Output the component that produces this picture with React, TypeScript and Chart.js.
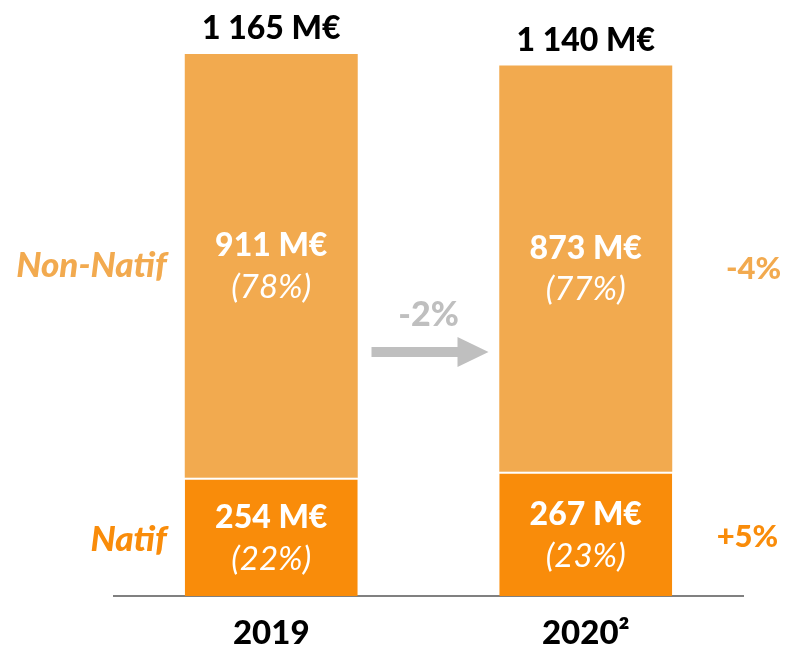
import React, { useEffect, useRef } from 'react';
import { Chart, registerables } from 'chart.js';

Chart.register(...registerables);

const categories = ['2019', '2020²'];
const natifValues = [254, 267];
const nonNatifValues = [911, 873];
const natifShares = ['(22%)', '(23%)'];
const nonNatifShares = ['(78%)', '(77%)'];
const seriesNames = ['Natif', 'Non-Natif'];
const seriesChanges = ['+5%', '-4%'];
const totalChange = '-2%';

const NATIF = '#F98C0A';
const NON_NATIF = '#F2AA4F';
const GREY = '#BFBFBF';
const FONT = 'Lato, "Open Sans", sans-serif';
const HEAVY = '900';

const fmt = (v: number) => v.toString().replace(/\B(?=(\d{3})+(?!\d))/g, ' ') + ' M€';

const labelPlugin = {
  id: 'customLabels',
  afterDatasetsDraw(chart: any) {
    const ctx = chart.ctx;
    const m0 = chart.getDatasetMeta(0);
    const m1 = chart.getDatasetMeta(1);
    ctx.save();
    ctx.textAlign = 'center';
    ctx.textBaseline = 'middle';
    categories.forEach((_, i) => {
      const b0 = m0.data[i];
      const b1 = m1.data[i];
      const mid0 = (b0.y + b0.base) / 2;
      const mid1 = (b1.y + b1.base) / 2;
      ctx.fillStyle = '#fff';
      ctx.font = `${HEAVY} 32px ${FONT}`;
      ctx.fillText(fmt(nonNatifValues[i]), b1.x, mid1 - 20);
      ctx.fillText(fmt(natifValues[i]), b0.x, mid0 - 19);
      ctx.font = `italic 33px ${FONT}`;
      ctx.fillText(nonNatifShares[i], b1.x, mid1 + 21);
      ctx.fillText(natifShares[i], b0.x, mid0 + 22);
      ctx.fillStyle = '#000';
      ctx.font = `${HEAVY} 32px ${FONT}`;
      ctx.fillText(fmt(natifValues[i] + nonNatifValues[i]), b1.x, b1.y - 25);
    });

    // series names on the left
    const f0 = m0.data[0];
    const f1 = m1.data[0];
    ctx.textAlign = 'right';
    ctx.font = `italic ${HEAVY} 35px ${FONT}`;
    ctx.fillStyle = NON_NATIF;
    ctx.fillText(seriesNames[1], f1.x - f1.width / 2 - 18, (f1.y + f1.base) / 2);
    ctx.fillStyle = NATIF;
    ctx.fillText(seriesNames[0], f0.x - f0.width / 2 - 18, (f0.y + f0.base) / 2 + 3);

    // changes on the right
    const l0 = m0.data[categories.length - 1];
    const l1 = m1.data[categories.length - 1];
    ctx.font = `${HEAVY} 31px ${FONT}`;
    ctx.fillStyle = NON_NATIF;
    ctx.fillText(seriesChanges[1], l1.x + l1.width / 2 + 109, (l1.y + l1.base) / 2);
    ctx.fillStyle = NATIF;
    ctx.fillText(seriesChanges[0], l0.x + l0.width / 2 + 106, (l0.y + l0.base) / 2 + 3);

    // total change arrow
    const cx = (f1.x + l1.x) / 2;
    const ay = chart.chartArea.top + 352;
    ctx.fillStyle = GREY;
    ctx.textAlign = 'center';
    ctx.font = `${HEAVY} 34px ${FONT}`;
    ctx.fillText(totalChange, cx, ay - 37);
    ctx.beginPath();
    ctx.moveTo(cx - 57, ay - 5);
    ctx.lineTo(cx + 29, ay - 5);
    ctx.lineTo(cx + 29, ay - 15);
    ctx.lineTo(cx + 60, ay);
    ctx.lineTo(cx + 29, ay + 15);
    ctx.lineTo(cx + 29, ay + 5);
    ctx.lineTo(cx - 57, ay + 5);
    ctx.closePath();
    ctx.fill();
    ctx.restore();
  },
};

export default function App() {
  const ref = useRef<HTMLCanvasElement | null>(null);
  useEffect(() => {
    if (!ref.current) return;
    const chart = new Chart(ref.current, {
      type: 'bar',
      data: {
        labels: categories,
        datasets: [
          {
            label: seriesNames[0],
            data: natifValues,
            backgroundColor: NATIF,
            borderColor: '#ffffff',
            borderWidth: { top: 2, left: 0, right: 0, bottom: 0 },
            borderSkipped: 'start',
            categoryPercentage: 1,
            barPercentage: 0.55,
          },
          {
            label: seriesNames[1],
            data: nonNatifValues,
            backgroundColor: NON_NATIF,
            borderWidth: 0,
            categoryPercentage: 1,
            barPercentage: 0.55,
          },
        ],
      },
      options: {
        animation: false,
        responsive: false,
        maintainAspectRatio: false,
        layout: { padding: { top: 0, left: 114, right: 44, bottom: 0 } },
        plugins: {
          legend: { display: false },
          tooltip: { enabled: false },
        },
        scales: {
          x: {
            stacked: true,
            grid: { display: false, drawTicks: false },
            border: { display: true, color: '#808080', width: 2 },
            afterFit: (scale: any) => {
              scale.height = 49;
            },
            ticks: {
              color: '#000',
              padding: 19,
              font: { family: FONT, size: 33, weight: HEAVY, lineHeight: 1.1 },
            },
          },
          y: {
            stacked: true,
            display: false,
            min: 0,
            max: 1281,
          },
        },
      },
      plugins: [labelPlugin],
    });
    return () => chart.destroy();
  }, []);
  return (
    <div style={{ position: 'fixed', left: 0, top: 0, width: 787, height: 645, background: '#fff' }}>
      <canvas ref={ref} width={787} height={645} style={{ width: 787, height: 645 }} />
    </div>
  );
}
